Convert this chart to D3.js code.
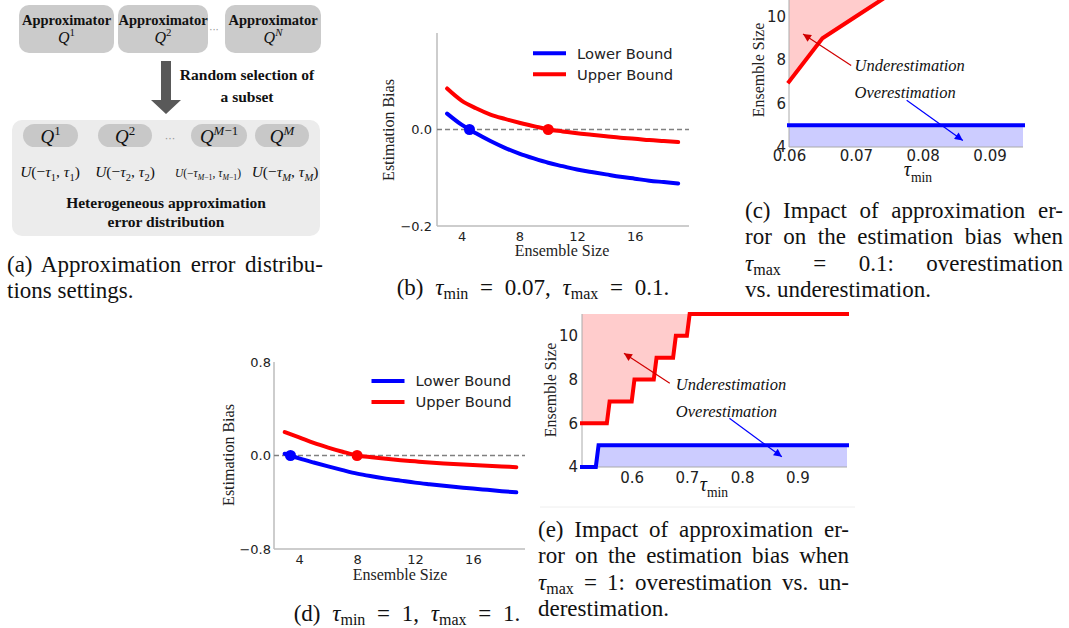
<!DOCTYPE html>
<html lang="en">
<head>
<meta charset="UTF-8">
<title>Estimation bias</title>
<script src="https://d3js.org/d3.v7.min.js"></script>
<style>
  body { margin: 0; background: #fff; }
  #container { position: relative; width: 1069px; height: 628px; overflow: hidden; background: #fff; }
  svg { position: absolute; left: 0; top: 0; }
  .cap { position: absolute; font-family: "Liberation Serif", "Times New Roman", serif; font-size: 23px;
         line-height: 26.3px; color: #111; }
  .cap.j { text-align: justify; text-align-last: justify; }
  .cap.m { word-spacing: 6px; }
  .cap i { font-style: italic; }
  .cap sub { font-size: 16px; vertical-align: -4px; line-height: 0; }
</style>
</head>
<body>
<div id="container"></div>
<script>
// ---- data ----
// (b) and (d): estimation bias vs ensemble size
var ensembleSizes = [3, 4, 5, 6, 7, 8, 9, 10, 11, 12, 13, 14, 15, 16, 17, 18, 19];
var lowerB = [0.033, 0.010, -0.008, -0.024, -0.038, -0.050, -0.060, -0.069, -0.076, -0.083, -0.088, -0.093, -0.098, -0.102, -0.106, -0.109, -0.112];
var upperB = [0.085, 0.060, 0.044, 0.031, 0.022, 0.014, 0.007, 0.000, -0.004, -0.008, -0.011, -0.014, -0.017, -0.019, -0.022, -0.024, -0.026];
var zeroB = [4.55, 10.0];   // lower / upper bound crossing of zero
var lowerD = [0.015, -0.025, -0.060, -0.093, -0.125, -0.155, -0.178, -0.198, -0.215, -0.232, -0.246, -0.259, -0.271, -0.283, -0.294, -0.305, -0.315];
var upperD = [0.200, 0.155, 0.108, 0.068, 0.032, 0.000, -0.015, -0.028, -0.040, -0.050, -0.060, -0.068, -0.075, -0.082, -0.088, -0.094, -0.100];
var zeroD = [3.4, 8.0];
var legendLabels = ["Lower Bound", "Upper Bound"];
var seriesColors = ["#0000ff", "#ff0000"];
var sizeTicks = [4, 8, 12, 16];
var biasTicksB = [-0.2, 0.0];
var biasTicksD = [-0.8, 0.0, 0.8];

// (c) tau_max = 0.1
var tauUnderC = [0.06, 0.065, 0.07, 0.075];
var underC = [7, 9, 10, 11];
var tauOverC = [0.06, 0.095];
var overC = [5, 5];
var tauTicksC = [0.06, 0.07, 0.08, 0.09];

// (e) tau_max = 1
var tauUnderE = [0.51, 0.555, 0.56, 0.60, 0.605, 0.64, 0.645, 0.675, 0.68, 0.70, 0.705, 0.99];
var underE = [6, 6, 7, 7, 8, 8, 9, 9, 10, 10, 11, 11];
var tauOverE = [0.51, 0.535, 0.54, 0.99];
var overE = [4, 4, 5, 5];
var tauTicksE = [0.6, 0.7, 0.8, 0.9];
var ensTicks = [4, 6, 8, 10];

// (a) diagram labels
var topSup = [["1", "r"], ["2", "r"], ["N", "i"]];
var pillSup = [[["1", "r"]], [["2", "r"]], [["M", "i"], ["\u22121", "r"]], [["M", "i"]]];

var SERIF = "'Liberation Serif', 'Times New Roman', serif";
var SANS = "'DejaVu Sans', sans-serif";

var svg = d3.select("#container").append("svg").attr("width", 1069).attr("height", 628);

var defs = svg.append("defs");
[["arrRed", "#d00000"], ["arrBlue", "#0000ff"]].forEach(function (m) {
    defs.append("marker").attr("id", m[0]).attr("viewBox", "0 0 10 10")
        .attr("refX", 10).attr("refY", 5).attr("markerWidth", 11).attr("markerHeight", 8)
        .attr("markerUnits", "userSpaceOnUse").attr("orient", "auto")
        .append("path").attr("d", "M0,0 L10,5 L0,10 z").attr("fill", m[1]);
});

// text with italic parts, sub- and superscripts
function mathText(sel, x, y, parts, size, anchor, weight) {
    var t = sel.append("text").attr("x", x).attr("y", y)
        .attr("text-anchor", anchor || "middle").attr("fill", "#111")
        .style("font-family", SERIF).style("font-size", size + "px")
        .style("font-weight", weight || "normal");
    var shift = 0;
    parts.forEach(function (p) {
        var kind = p[1], target = 0, fs = size;
        if (kind.indexOf("sub") === 0) { target = size * 0.28; fs = size * 0.68; }
        if (kind.indexOf("sup") === 0) { target = -size * 0.42; fs = size * 0.68; }
        var italic = kind === "i" || kind === "subi" || kind === "supi";
        t.append("tspan").text(p[0]).attr("dy", target - shift)
            .style("font-size", fs + "px").style("font-style", italic ? "italic" : "normal");
        shift = target;
    });
    return t;
}

// ---------- (a) diagram ----------
var ga = svg.append("g");
var topBoxX = [[19, 114], [118, 208], [225, 321]];
topBoxX.forEach(function (b, i) {
    ga.append("rect").attr("x", b[0]).attr("y", 5).attr("width", b[1] - b[0]).attr("height", 48)
        .attr("rx", 10).attr("fill", "#cbcbcb");
    ga.append("text").attr("x", (b[0] + b[1]) / 2).attr("y", 25).attr("text-anchor", "middle")
        .style("font-family", SERIF).style("font-size", "14.5px").style("font-weight", "bold")
        .attr("fill", "#111").text("Approximator");
    mathText(ga, (b[0] + b[1]) / 2, 43, [["Q", "i"], [topSup[i][0], "sup" + topSup[i][1]]], 16);
});
ga.append("text").attr("x", 214).attr("y", 33).attr("text-anchor", "middle")
    .style("font-family", SANS).style("font-size", "10px").attr("fill", "#999").text("\u00b7\u00b7\u00b7");

ga.append("path").attr("d", "M161,61 L171,61 L171,100 L181,100 L166,114 L151,100 L161,100 Z")
    .attr("fill", "#595959");
[["Random selection of", 80], ["a subset", 102]].forEach(function (l) {
    ga.append("text").attr("x", 247).attr("y", l[1]).attr("text-anchor", "middle")
        .style("font-family", SERIF).style("font-size", "15.5px").style("font-weight", "bold")
        .attr("fill", "#111").text(l[0]);
});

ga.append("rect").attr("x", 12).attr("y", 120).attr("width", 308).attr("height", 116)
    .attr("rx", 10).attr("fill", "#ececec");
var pillX = [[23, 78], [98, 152], [191, 247], [255, 309]];
var uCenters = [50, 125, 208, 285];
pillX.forEach(function (b, i) {
    ga.append("rect").attr("x", b[0]).attr("y", 124).attr("width", b[1] - b[0]).attr("height", 23)
        .attr("rx", 11.5).attr("fill", "#c8c8c8");
    var parts = [["Q", "i"]].concat(pillSup[i].map(function (s) { return [s[0], "sup" + s[1]]; }));
    mathText(ga, (b[0] + b[1]) / 2, 143, parts, 19);
    var sub = pillSup[i].map(function (s) { return [s[0], "sub" + s[1]]; });
    var u = [["U", "i"], ["(\u2212", "r"], ["\u03c4", "i"]].concat(sub)
        .concat([[", ", "r"], ["\u03c4", "i"]]).concat(sub).concat([[")", "r"]]);
    mathText(ga, uCenters[i], 177, u, i === 2 ? 11.5 : 15.5);
});
ga.append("text").attr("x", 170).attr("y", 142).attr("text-anchor", "middle")
    .style("font-family", SANS).style("font-size", "11px").attr("fill", "#999").text("\u00b7\u00b7\u00b7");
[["Heterogeneous approximation", 208], ["error distribution", 227]].forEach(function (l) {
    ga.append("text").attr("x", 166).attr("y", l[1]).attr("text-anchor", "middle")
        .style("font-family", SERIF).style("font-size", "15.5px").style("font-weight", "bold")
        .attr("fill", "#111").text(l[0]);
});

// ---------- bias charts (b), (d) ----------
function biasChart(o) {
    var g = svg.append("g");
    var x = d3.scaleLinear().domain(o.xDomain).range([o.left, o.right]);
    var y = d3.scaleLinear().domain(o.yDomain).range([o.bottom, o.top]);

    g.append("line").attr("x1", o.left).attr("x2", o.left).attr("y1", o.top).attr("y2", o.bottom)
        .attr("stroke", "#bdbdbd").attr("stroke-width", 1.5);
    g.append("line").attr("x1", o.left).attr("x2", o.right).attr("y1", o.bottom).attr("y2", o.bottom)
        .attr("stroke", "#bdbdbd").attr("stroke-width", 1.5);

    var ya = g.append("g").attr("transform", "translate(" + o.left + ",0)")
        .call(d3.axisLeft(y).tickValues(o.yTicks).tickSize(0).tickPadding(o.yPad).tickFormat(d3.format(".1f")));
    var xa = g.append("g").attr("transform", "translate(0," + o.bottom + ")")
        .call(d3.axisBottom(x).tickValues(sizeTicks).tickSize(0).tickPadding(5.5));
    [ya, xa].forEach(function (a) {
        a.select(".domain").remove();
        a.selectAll("text").style("font-family", SANS).style("font-size", "13px").attr("fill", "#222");
    });

    g.append("line").attr("x1", o.left).attr("x2", o.right).attr("y1", y(0)).attr("y2", y(0))
        .attr("stroke", "#808080").attr("stroke-width", 1.5).attr("stroke-dasharray", "5,3");

    var line = d3.line().x(function (d, i) { return x(ensembleSizes[i]); })
        .y(function (d) { return y(d); }).curve(d3.curveMonotoneX);
    [o.lower, o.upper].forEach(function (s, k) {
        g.append("path").attr("d", line(s)).attr("fill", "none")
            .attr("stroke", seriesColors[k]).attr("stroke-width", 4).attr("stroke-linecap", "round");
    });
    g.selectAll("circle.zero").data(o.zero).enter().append("circle")
        .attr("cx", function (d) { return x(d); }).attr("cy", y(0)).attr("r", 5.5)
        .attr("fill", function (d, k) { return seriesColors[k]; });

    legendLabels.forEach(function (lab, k) {
        var ly = o.legY + k * 21;
        g.append("line").attr("x1", o.legX).attr("x2", o.legX + 33).attr("y1", ly).attr("y2", ly)
            .attr("stroke", seriesColors[k]).attr("stroke-width", 4);
        g.append("text").attr("x", o.legX + 44).attr("y", ly + 5.3)
            .style("font-family", SANS).style("font-size", "14.7px").attr("fill", "#222").text(lab);
    });

    g.append("text").attr("transform", "translate(" + o.yLabX + "," + o.yLabY + ") rotate(-90)")
        .attr("text-anchor", "middle").style("font-family", SERIF).style("font-size", "16px")
        .attr("fill", "#222").text("Estimation Bias");
    g.append("text").attr("x", o.xLabX).attr("y", o.xLabY).attr("text-anchor", "middle")
        .style("font-family", SERIF).style("font-size", "16px").attr("fill", "#222").text("Ensemble Size");
}

biasChart({ xDomain: [2.3, 19.75], yDomain: [-0.2, 0.2], left: 437, right: 689, top: 33, bottom: 226,
    yTicks: biasTicksB, yPad: 5, lower: lowerB, upper: upperB, zero: zeroB,
    legX: 533, legY: 53.3, yLabX: 393.5, yLabY: 130, xLabX: 562, xLabY: 256 });
biasChart({ xDomain: [2.26, 19.6], yDomain: [-0.8, 0.8], left: 274, right: 525, top: 362, bottom: 549,
    yTicks: biasTicksD, yPad: 3, lower: lowerD, upper: upperD, zero: zeroD,
    legX: 371.5, legY: 381, yLabX: 233.5, yLabY: 455, xLabX: 400, xLabY: 580 });

// ---------- over/under-estimation charts (c), (e) ----------
function regionChart(o) {
    var g = svg.append("g");
    var x = d3.scaleLinear().domain(o.xDomain).range([o.left, o.right]);
    var y = d3.scaleLinear().domain([4, 11]).range([o.bottom, o.top]);

    var under = o.underX.map(function (t, i) { return [t, o.under[i]]; });
    var over = o.overX.map(function (t, i) { return [t, o.over[i]]; });

    g.append("path").attr("fill", "#ffcccc")
        .attr("d", d3.area().x(function (d) { return x(d[0]); }).y0(y(11)).y1(function (d) { return y(d[1]); })(under));
    g.append("path").attr("fill", "#ccccff")
        .attr("d", d3.area().x(function (d) { return x(d[0]); }).y0(y(4)).y1(function (d) { return y(d[1]); })(over));

    g.append("line").attr("x1", o.left).attr("x2", o.left).attr("y1", y(11)).attr("y2", o.bottom)
        .attr("stroke", "#aaa").attr("stroke-width", 1);
    g.append("line").attr("x1", o.left).attr("x2", o.right).attr("y1", o.bottom).attr("y2", o.bottom)
        .attr("stroke", "#aaa").attr("stroke-width", 1);

    var line = d3.line().x(function (d) { return x(d[0]); }).y(function (d) { return y(d[1]); });
    g.append("path").attr("d", line(under)).attr("fill", "none").attr("stroke", "#ff0000")
        .attr("stroke-width", 4).attr("stroke-linecap", "square");
    g.append("path").attr("d", line(over)).attr("fill", "none").attr("stroke", "#0000ff")
        .attr("stroke-width", 4).attr("stroke-linecap", "square");

    var ya = g.append("g").attr("transform", "translate(" + o.left + ",0)")
        .call(d3.axisLeft(y).tickValues(ensTicks).tickSize(0).tickPadding(o.yPad).tickFormat(d3.format("d")));
    var xa = g.append("g").attr("transform", "translate(0," + o.bottom + ")")
        .call(d3.axisBottom(x).tickValues(o.xTicks).tickSize(0).tickPadding(o.xPad).tickFormat(o.fmt));
    [ya, xa].forEach(function (a) {
        a.select(".domain").remove();
        a.selectAll("text").style("font-family", SANS).style("font-size", "15px").attr("fill", "#222");
    });

    // annotations
    g.append("line").attr("x1", x(o.redArrow[0])).attr("y1", y(o.redArrow[1]))
        .attr("x2", x(o.redArrow[2])).attr("y2", y(o.redArrow[3]))
        .attr("stroke", "#d00000").attr("stroke-width", 1.2).attr("marker-end", "url(#arrRed)");
    g.append("line").attr("x1", x(o.blueArrow[0])).attr("y1", y(o.blueArrow[1]))
        .attr("x2", x(o.blueArrow[2])).attr("y2", y(o.blueArrow[3]))
        .attr("stroke", "#0000ff").attr("stroke-width", 1.2).attr("marker-end", "url(#arrBlue)");
    [["Underestimation", o.textY[0]], ["Overestimation", o.textY[1]]].forEach(function (l) {
        g.append("text").attr("x", x(o.textX)).attr("y", y(l[1]))
            .style("font-family", SERIF).style("font-size", "16.5px").style("font-style", "italic")
            .attr("fill", "#111").text(l[0]);
    });

    g.append("text").attr("transform", "translate(" + o.yLabX + "," + o.yLabY + ") rotate(-90)")
        .attr("text-anchor", "middle").style("font-family", SERIF).style("font-size", "16px")
        .attr("fill", "#222").text("Ensemble Size");
    mathText(g, o.tauX, o.tauY, [["\u03c4", "i"], ["min", "subr"]], 20);
}

regionChart({ xDomain: [0.06, 0.095], left: 789, right: 1023, top: -5.25, bottom: 147,
    underX: tauUnderC, under: underC, overX: tauOverC, over: overC,
    xTicks: tauTicksC, fmt: d3.format(".2f"), yPad: 3, xPad: 3.5,
    redArrow: [0.0693, 7.75, 0.0621, 9.2], blueArrow: [0.0776, 6.15, 0.0860, 4.3],
    textX: 0.0698, textY: [7.49, 6.25], yLabX: 764, yLabY: 70, tauX: 918, tauY: 176 });
regionChart({ xDomain: [0.51, 0.99], left: 582, right: 847, top: 314, bottom: 467,
    underX: tauUnderE, under: underE, overX: tauOverE, over: overE,
    xTicks: tauTicksE, fmt: d3.format(".1f"), yPad: 4, xPad: 5.5,
    redArrow: [0.669, 7.83, 0.586, 9.2], blueArrow: [0.777, 6.23, 0.872, 4.47],
    textX: 0.680, textY: [7.52, 6.29], yLabX: 555.5, yLabY: 390, tauX: 714, tauY: 491 });

svg.append("line").attr("x1", 540).attr("x2", 855).attr("y1", 507).attr("y2", 507)
    .attr("stroke", "#eeeeee").attr("stroke-width", 1);

// ---------- captions ----------
function caption(left, baseline, width, lines, center) {
    lines.forEach(function (l, i) {
        var justify = !center && i < lines.length - 1;
        d3.select("#container").append("div")
            .attr("class", "cap" + (justify ? " j" : "") + (center ? " m" : ""))
            .style("left", left + "px").style("top", (baseline + i * 26.3 - 20.9) + "px")
            .style("width", width + "px").style("text-align", center ? "center" : null)
            .html(l);
    });
}
caption(7, 273, 316, ["(a) Approximation error distribu-", "tions settings."]);
caption(380, 296, 306, ["(b) <i>\u03c4</i><sub>min</sub> = 0.07, <i>\u03c4</i><sub>max</sub> = 0.1."], true);
caption(745, 219, 318, ["(c) Impact of approximation er-", "ror on the estimation bias when",
    "<i>\u03c4</i><sub>max</sub> = 0.1: overestimation", "vs. underestimation."]);
caption(290, 622, 234, ["(d) <i>\u03c4</i><sub>min</sub> = 1, <i>\u03c4</i><sub>max</sub> = 1."], true);
caption(538, 538, 311, ["(e) Impact of approximation er-", "ror on the estimation bias when",
    "<i>\u03c4</i><sub>max</sub> = 1: overestimation vs. un-", "derestimation."]);
</script>
</body>
</html>
